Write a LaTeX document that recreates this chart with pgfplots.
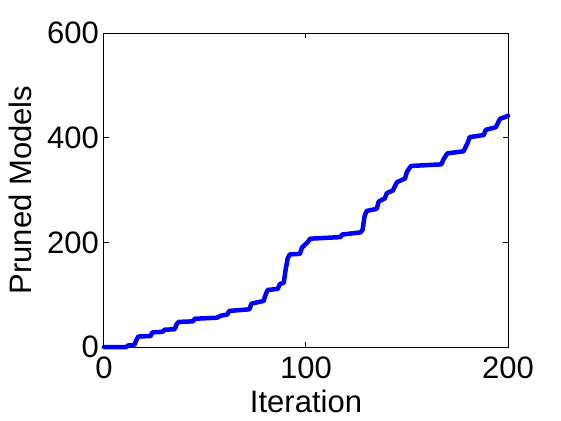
\documentclass[border=0pt]{standalone}
\usepackage{fontspec}
\setmainfont{Liberation Sans}
\usepackage{pgfplots}
\pgfplotsset{compat=1.18}
\begin{document}
\begin{tikzpicture}
\begin{axis}[
  scale only axis, width=404pt, height=314pt,
  xmin=0, xmax=200, ymin=0, ymax=600,
  xtick={0,100,200}, ytick={0,200,400,600},
  tick align=inside, major tick length=5pt,
  /pgf/number format/assume math mode=true,
  tick label style={font=\fontsize{31}{36}\selectfont},
  label style={font=\fontsize{31}{36}\selectfont},
  xticklabel style={inner sep=0pt, yshift=-10pt},
  yticklabel style={inner sep=0pt, xshift=-5pt},
  xlabel={Iteration}, ylabel={Pruned Models},
  xlabel style={at={(axis description cs:0.5,-0.137)}, anchor=north, inner sep=0pt},
  ylabel style={at={(axis description cs:-0.178,0.5)}, anchor=south, inner sep=0pt},
  clip=false,
  axis line style={line width=1pt},
  every tick/.style={line width=1pt, black},
]
\addplot[color=blue, line width=4.5pt, line join=round, line cap=round] coordinates {
(0,0) (11,0) (12,3) (15,4) (16,13) (17,20) (23,21) (24,28) (29,29) (30,33)
(35,34) (36,44) (37,48) (44,49) (45,54) (56,56) (58,60) (61,62) (62,69) (72,72)
(73,83) (79,88) (80,100) (81,109) (86,111) (87,120) (89,123) (90,150) (91,170) (92,177)
(97,178) (98,190) (101,201) (102,207) (117,210) (118,215) (127,219) (128,224) (129,250) (130,260)
(135,264) (136,278) (139,284) (140,294) (143,299) (145,315) (149,322) (150,335) (152,346) (167,349)
(168,358) (170,370) (178,374) (180,390) (181,401) (188,405) (189,415) (194,420) (196,436) (199,440)
(200,442)
};
\coordinate (bl) at (rel axis cs:-0.2574,-0.2325);
\coordinate (tr) at (rel axis cs:1.1312,1.1051);
\end{axis}
\pgfresetboundingbox
\path[use as bounding box] (bl) rectangle (tr);
\end{tikzpicture}
\end{document}
